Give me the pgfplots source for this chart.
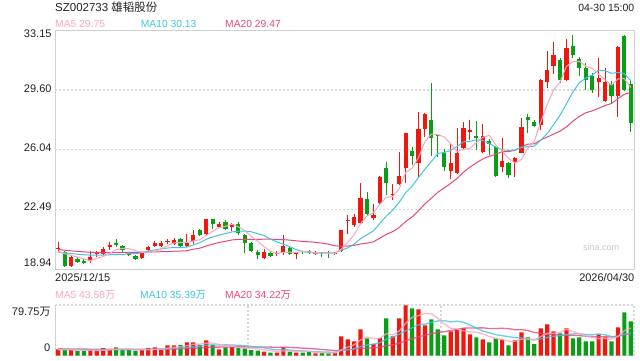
\documentclass[border=0pt]{standalone}
\usepackage{pgfplots}
\pgfplotsset{compat=1.18}
\usepackage{pgfplotstable}
\usepackage{fontspec}
\setmainfont{Liberation Sans}
\newfontfamily\cjk{Noto Sans CJK SC}
\definecolor{cred}{RGB}{240,24,12}
\definecolor{cgreen}{RGB}{10,158,22}
\definecolor{cma5}{RGB}{250,165,192}
\definecolor{cma10}{RGB}{64,196,226}
\definecolor{cma20}{RGB}{234,70,125}
\definecolor{bgray}{RGB}{208,208,208}
\definecolor{ggray}{RGB}{216,216,216}
\definecolor{tgray}{RGB}{34,34,34}

% up (red) candles
\pgfplotstableread{
n O H L C
1 20.14 20.54 19.94 20.20
3 19.14 19.74 19.08 19.68
6 19.40 20.04 19.28 19.68
7 19.82 20.00 19.68 19.88
8 19.84 20.28 19.80 20.14
9 20.28 20.54 20.08 20.38
14 19.60 19.96 19.56 19.90
15 20.08 20.32 20.04 20.24
16 20.34 20.58 20.26 20.48
17 20.30 20.58 20.24 20.48
18 20.56 20.72 20.40 20.60
19 20.40 20.80 20.36 20.68
21 20.32 21.04 20.28 20.48
22 20.58 21.24 20.44 20.94
24 21.00 21.93 20.94 21.89
26 21.47 21.73 21.44 21.63
28 21.44 21.67 21.20 21.60
33 19.60 20.14 19.52 19.94
35 19.84 20.04 19.74 19.88
36 19.98 20.94 19.76 20.34
38 19.82 19.98 19.54 19.86
41 19.84 20.04 19.80 19.88
44 19.84 19.98 19.80 19.88
45 20.00 21.28 19.96 21.24
46 21.80 22.13 21.04 21.87
47 21.59 22.23 21.44 22.03
48 21.67 24.07 21.63 23.17
50 21.97 22.83 21.87 22.13
51 22.87 24.47 22.83 24.43
53 23.33 24.03 23.03 23.43
54 24.03 25.93 23.93 24.47
55 24.97 27.06 24.07 27.02
57 25.23 28.28 24.39 27.28
58 27.28 28.22 26.82 28.18
62 24.79 26.42 24.29 25.27
63 24.67 27.32 24.63 25.83
64 26.16 27.72 26.02 27.32
65 27.12 27.82 26.62 27.22
67 25.93 27.58 25.83 26.86
70 25.03 26.72 24.73 25.37
72 25.33 25.59 24.43 25.53
73 25.87 27.96 25.83 27.38
76 27.52 30.26 27.22 30.22
77 30.06 31.95 29.72 30.82
78 31.02 32.45 30.56 31.71
80 30.22 32.65 30.16 32.11
85 30.06 31.51 29.18 30.32
86 28.92 30.92 28.88 30.06
88 29.26 32.21 28.02 32.15
}\upK

% down (green) candles
\pgfplotstableread{
n O H L C
2 19.98 20.04 19.08 19.14
4 19.52 19.64 19.32 19.36
5 19.44 19.52 19.26 19.32
10 20.48 20.70 20.24 20.36
11 20.32 20.36 19.98 20.08
12 19.88 19.98 19.72 19.80
13 19.74 19.80 19.48 19.54
20 20.74 20.80 20.24 20.34
23 21.24 21.33 20.92 20.98
25 21.89 21.93 21.31 21.60
27 21.77 21.83 21.28 21.31
29 21.60 21.73 20.94 21.10
30 20.94 21.04 19.90 20.50
31 20.50 20.54 19.94 20.04
32 19.98 20.08 19.56 19.76
34 19.88 20.00 19.68 19.72
37 20.20 20.28 19.76 19.84
39 20.00 20.04 19.86 19.94
40 20.02 20.06 19.84 19.88
42 19.90 19.98 19.64 19.82
43 19.86 20.00 19.60 19.82
49 23.09 23.53 22.13 22.23
52 24.95 25.33 23.33 24.07
56 25.97 26.18 25.13 25.69
59 27.82 30.04 25.69 26.72
60 26.92 27.00 25.63 26.86
61 25.83 26.07 24.77 25.03
66 26.86 27.78 26.02 26.72
68 26.56 26.66 25.73 26.40
69 26.22 26.27 24.45 24.49
71 25.23 25.33 24.39 24.53
74 28.00 28.18 27.02 27.84
75 27.68 27.82 27.38 27.46
79 31.41 31.51 30.02 30.18
81 32.25 32.87 31.51 31.67
82 31.47 31.55 30.46 30.92
83 30.92 31.21 29.62 30.22
84 30.46 30.62 29.42 29.58
87 29.98 30.12 28.78 29.26
89 32.81 32.91 29.52 29.62
90 29.98 30.12 27.12 27.66
}\downK

% price moving averages
\pgfplotstableread{
n m5 m10 m20
1 20.00 19.95 20.10
2 19.85 19.90 20.06
3 19.75 19.86 20.02
4 19.65 19.82 19.99
5 19.54 19.79 19.96
6 19.44 19.77 19.94
7 19.58 19.76 19.93
8 19.68 19.77 19.92
9 19.88 19.79 19.92
10 20.09 19.81 19.92
11 20.17 19.80 19.93
12 20.15 19.87 19.93
13 20.03 19.85 19.93
14 19.94 19.91 19.94
15 19.91 20.00 19.95
16 19.99 20.08 19.96
17 20.13 20.14 19.97
18 20.34 20.19 19.98
19 20.50 20.22 20.00
20 20.52 20.21 20.01
21 20.52 20.25 20.03
22 20.61 20.37 20.12
23 20.68 20.51 20.18
24 20.93 20.71 20.31
25 21.18 20.85 20.42
26 21.41 20.96 20.52
27 21.48 21.05 20.59
28 21.61 21.15 20.67
29 21.45 21.19 20.70
30 21.23 21.20 20.71
31 20.91 21.16 20.71
32 20.60 21.04 20.70
33 20.27 20.94 20.72
34 19.99 20.72 20.72
35 19.87 20.55 20.70
36 19.93 20.42 20.69
37 19.94 20.27 20.66
38 19.93 20.10 20.62
39 19.97 19.98 20.58
40 19.97 19.92 20.56
41 19.88 19.90 20.53
42 19.88 19.91 20.48
43 19.87 19.90 20.42
44 19.86 19.91 20.32
45 20.13 20.05 20.30
46 20.53 20.20 20.31
47 20.97 20.42 20.35
48 21.64 20.75 20.43
49 22.11 20.98 20.48
50 22.29 21.21 20.56
51 22.80 21.66 20.78
52 23.21 22.09 21.00
53 23.26 22.45 21.17
54 23.71 22.91 21.41
55 24.68 23.49 21.77
56 24.94 23.87 22.04
57 25.58 24.39 22.41
58 26.53 24.89 22.82
59 26.98 25.34 23.16
60 26.95 25.82 23.51
61 26.81 25.88 23.77
62 26.41 26.00 24.04
63 25.94 26.24 24.34
64 26.06 26.52 24.71
65 26.13 26.54 25.01
66 26.47 26.64 25.26
67 26.79 26.60 25.50
68 26.90 26.42 25.66
69 26.34 26.20 25.77
70 25.97 26.05 25.93
71 25.53 26.00 25.94
72 25.26 26.03 26.01
73 25.46 26.18 26.21
74 26.13 26.23 26.38
75 26.55 26.26 26.40
76 27.69 26.61 26.63
77 28.74 27.00 26.80
78 29.61 27.54 26.98
79 30.08 28.10 27.15
80 31.01 28.78 27.41
81 31.30 29.49 27.75
82 31.32 30.03 28.03
83 31.02 30.32 28.25
84 30.90 30.49 28.36
85 30.54 30.78 28.52
86 30.22 30.76 28.68
87 29.89 30.60 28.80
88 30.27 30.65 29.09
89 30.28 30.59 29.35
90 29.75 30.15 29.46
}\maP

% volume (10k shares)
\pgfplotstableread{
n V
1 9.5
3 9.0
6 9.0
7 7.9
8 11.6
9 9.0
14 9.0
15 11.6
16 12.7
17 9.0
18 15.8
19 15.8
21 20.6
22 20.6
24 23.7
26 9.5
28 13.2
33 6.3
35 4.7
36 12.7
38 4.7
41 3.2
44 3.7
45 30.1
46 25.3
47 22.2
48 41.1
50 18.5
51 27.4
53 30.1
54 58.6
55 79.1
57 72.8
58 47.5
62 38.0
63 41.1
64 42.7
65 33.2
67 25.3
70 25.3
72 23.7
73 36.4
76 42.7
77 49.1
78 38.0
80 42.7
85 33.2
86 28.5
88 44.3
}\upV

\pgfplotstableread{
n V
2 9.5
4 6.9
5 6.9
10 12.7
11 9.0
12 9.0
13 6.9
20 16.4
23 16.6
25 16.9
27 12.7
29 11.6
30 11.1
31 8.4
32 7.9
34 4.7
37 6.3
39 4.7
40 5.3
42 3.7
43 3.2
49 26.9
52 58.6
56 74.4
59 57.0
60 41.1
61 31.7
66 28.5
68 20.6
69 26.9
71 15.8
74 28.5
75 17.9
79 34.8
81 26.9
82 28.5
83 22.2
84 22.2
87 22.2
89 68.0
90 53.8
}\downV

% volume moving averages
\pgfplotstableread{
n a5 a10 a20
1 9.0 9.5 10.5
2 9.0 9.4 10.4
3 9.0 9.3 10.3
4 8.7 9.2 10.2
5 8.36 9.1 10.1
6 8.26 9.0 10.0
7 7.94 9.0 10.0
8 8.46 9.0 9.9
9 8.88 9.1 9.9
10 10.04 9.2 9.9
11 10.04 9.15 9.9
12 10.26 9.1 9.9
13 9.32 8.89 9.9
14 9.32 9.1 9.9
15 9.10 9.57 10.0
16 9.84 9.94 10.0
17 9.84 10.05 10.1
18 11.62 10.47 10.2
19 12.98 11.15 10.3
20 13.94 11.52 10.36
21 15.52 12.68 10.92
22 17.84 13.84 11.47
23 18.0 14.81 11.85
24 19.58 16.28 12.69
25 19.68 16.81 13.19
26 17.46 16.49 13.22
27 15.88 16.86 13.46
28 15.2 16.6 13.54
29 12.78 16.18 13.67
30 11.62 15.65 13.59
31 11.4 14.43 13.56
32 10.44 13.16 13.5
33 9.06 12.13 13.47
34 7.68 10.23 13.26
35 6.4 9.01 12.91
36 7.26 9.33 12.91
37 6.94 8.69 12.78
38 6.62 7.84 12.22
39 6.62 7.15 11.67
40 6.74 6.57 11.11
41 4.84 6.05 10.24
42 4.32 5.63 9.4
43 4.02 5.32 8.73
44 3.82 5.22 7.73
45 8.78 7.76 8.39
46 13.2 9.02 9.18
47 16.9 10.61 9.65
48 24.48 14.25 11.05
49 29.12 16.47 11.81
50 26.8 17.79 12.18
51 27.22 20.21 13.13
52 34.5 25.7 15.67
53 32.3 28.39 16.86
54 38.64 33.88 19.55
55 50.76 38.78 23.27
56 60.16 43.69 26.36
57 63.0 48.75 29.68
58 66.48 49.39 31.82
59 66.16 52.4 34.44
60 58.56 54.66 36.23
61 50.02 55.09 37.65
62 43.06 53.03 39.37
63 41.78 54.13 41.26
64 38.92 52.54 43.21
65 37.34 47.95 43.37
66 36.7 43.36 43.53
67 34.16 38.61 43.68
68 30.06 35.92 42.66
69 26.9 32.91 42.66
70 25.32 31.33 43.0
71 22.78 29.74 42.42
72 22.46 28.31 40.67
73 25.62 27.84 40.99
74 25.94 26.42 39.48
75 24.46 24.89 36.42
76 29.84 26.31 34.84
77 34.92 28.69 33.65
78 35.24 30.43 33.18
79 36.5 31.22 32.07
80 41.46 32.96 32.15
81 38.3 34.07 31.91
82 34.18 34.55 31.43
83 31.02 33.13 30.49
84 28.5 32.5 29.46
85 26.6 34.03 29.46
86 26.92 32.61 29.46
87 25.66 29.92 29.31
88 30.08 30.55 30.49
89 39.24 33.87 32.55
90 43.36 34.98 33.97
}\maV

\begin{document}
\begin{tikzpicture}
\path[use as bounding box] (0pt,0pt) rectangle (640pt,360pt);

% ---------- price pane ----------
\begin{axis}[
  at={(55pt,91pt)}, anchor=south west,
  scale only axis, width=579pt, height=238.5pt,
  xmin=0.5, xmax=90.5, ymin=18.94, ymax=33.15,
  axis line style={draw=bgray, line width=1pt},
  xtick=\empty,
  ytick={22.49,26.04,29.60}, yticklabels={},
  major tick length=0pt,
  ymajorgrids,
  grid style={draw=ggray, line width=1.3pt, dash pattern=on 2pt off 2pt},
  candle/.style={draw=none, mark=none, forget plot,
    error bars/.cd, y dir=plus, y explicit, error mark=none},
]
% wicks
\addplot[candle, error bar style={draw=cred, line width=1pt}]
  table[x=n, y=L, y error plus expr={\thisrow{H}-\thisrow{L}}] \upK;
\addplot[candle, error bar style={draw=cgreen, line width=1pt}]
  table[x=n, y=L, y error plus expr={\thisrow{H}-\thisrow{L}}] \downK;
% bodies
\addplot[candle, error bar style={draw=cred, line width=4.2pt}]
  table[x=n, y=O, y error plus expr={max(\thisrow{C}-\thisrow{O},0.06)}] \upK;
\addplot[candle, error bar style={draw=cgreen, line width=4.2pt}]
  table[x=n, y=C, y error plus expr={max(\thisrow{O}-\thisrow{C},0.06)}] \downK;
% moving averages
\addplot[cma20, line width=1pt, mark=none, line join=round] table[x=n, y=m20] \maP;
\addplot[cma10, line width=1pt, mark=none, line join=round] table[x=n, y=m10] \maP;
\addplot[cma5, line width=1pt, mark=none, line join=round] table[x=n, y=m5] \maP;
\end{axis}

% ---------- volume pane ----------
\begin{axis}[
  at={(55pt,4.5pt)}, anchor=south west,
  scale only axis, width=579pt, height=50.5pt,
  xmin=0.5, xmax=90.5, ymin=0, ymax=79.75,
  axis line style={draw=none},
  xtick={30.5,60.5,90.5}, xticklabels={},
  ytick={0,79.75}, yticklabels={},
  major tick length=0pt,
  xmajorgrids, ymajorgrids,
  grid style={draw=ggray, line width=1.3pt, dash pattern=on 2pt off 2pt},
  extra x ticks={0.5}, extra x tick labels={},
  extra x tick style={grid style={solid, draw=bgray, line width=1pt}},
]
\addplot[ybar, bar width=4.2pt, bar shift=0pt, fill=cred, draw=none] table[x=n, y=V] \upV;
\addplot[ybar, bar width=4.2pt, bar shift=0pt, fill=cgreen, draw=none] table[x=n, y=V] \downV;
\addplot[cma20, line width=1.3pt, opacity=0.8, mark=none, line join=round] table[x=n, y=a20] \maV;
\addplot[cma10, line width=1.3pt, opacity=0.8, mark=none, line join=round] table[x=n, y=a10] \maV;
\addplot[cma5, line width=1.3pt, opacity=0.8, mark=none, line join=round] table[x=n, y=a5] \maV;
\end{axis}

% ---------- texts ----------
\node[anchor=base west, inner sep=0pt, text=tgray, font=\fontsize{11.5}{13}\selectfont] at (55pt,349pt) {SZ002733 {\cjk 雄韬股份}};
\node[anchor=base east, inner sep=0pt, text=tgray, font=\fontsize{10.5}{12}\selectfont] at (634.5pt,349pt) {04-30 15:00};

\begin{scope}[every node/.style={anchor=base west, inner sep=0pt, font=\fontsize{10.3}{12}\selectfont}]
\node[text=cma5] at (55pt,332.7pt) {MA5 29.75};
\node[text=cma10] at (140.7pt,332.7pt) {MA10 30.13};
\node[text=cma20] at (225pt,332.7pt) {MA20 29.47};
\node[text=cma5] at (55pt,61.7pt) {MA5 43.58{\cjk 万}};
\node[text=cma10] at (140pt,61.7pt) {MA10 35.39{\cjk 万}};
\node[text=cma20] at (225pt,61.7pt) {MA20 34.22{\cjk 万}};
\end{scope}

\begin{scope}[every node/.style={anchor=base east, inner sep=0pt, text=tgray, font=\fontsize{11}{13}\selectfont}]
\node at (51.7pt,322.3pt) {33.15};
\node at (51.7pt,267.2pt) {29.60};
\node at (51.7pt,208.2pt) {26.04};
\node at (51.7pt,149.2pt) {22.49};
\node at (51.7pt,93.2pt) {18.94};
\node at (50.7pt,45pt) {79.75{\cjk 万}};
\node at (50.5pt,8.3pt) {0};
\end{scope}

\node[anchor=base west, inner sep=0pt, text=tgray, font=\fontsize{11}{13}\selectfont] at (55pt,78.5pt) {2025/12/15};
\node[anchor=base east, inner sep=0pt, text=tgray, font=\fontsize{11}{13}\selectfont] at (634.5pt,78.5pt) {2026/04/30};
\node[anchor=base west, inner sep=0pt, text=black!22, font=\fontsize{9}{11}\selectfont] at (583pt,110pt) {sina.com};
\end{tikzpicture}
\end{document}
